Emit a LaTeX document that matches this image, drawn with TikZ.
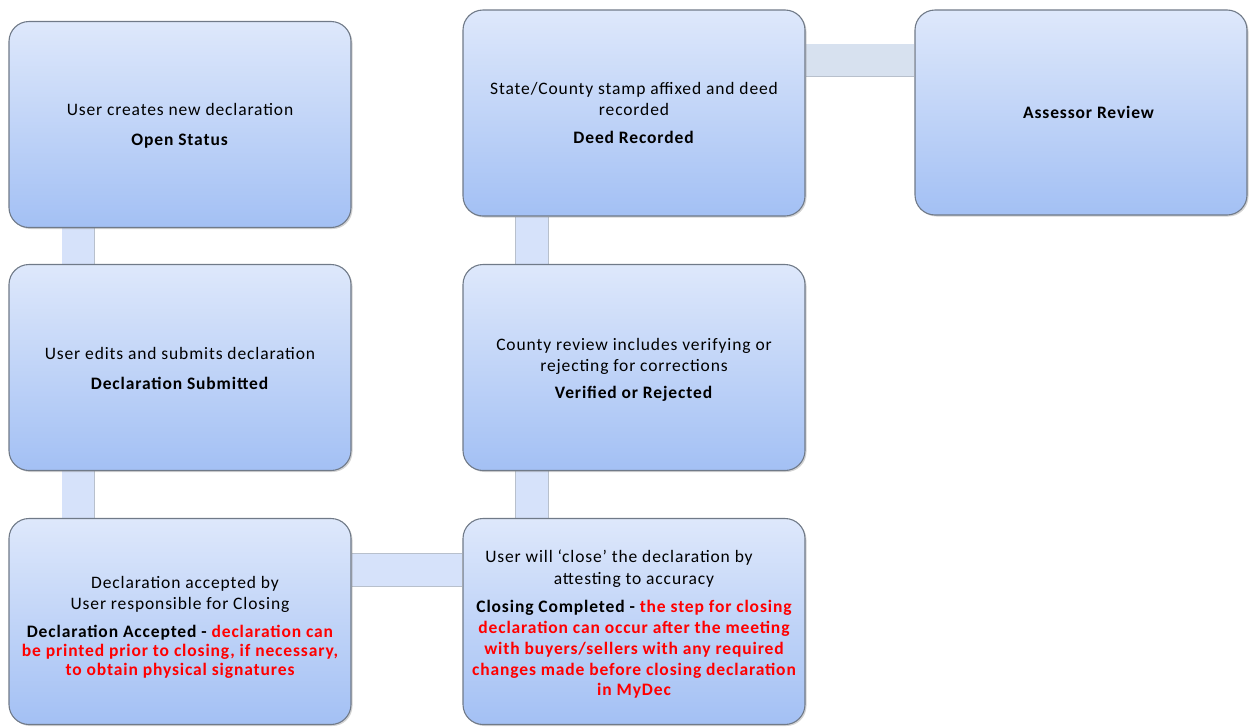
\documentclass[tikz,border=0pt]{standalone}
\usepackage{fontspec}
\setmainfont[LetterSpace=5]{Carlito}
\usetikzlibrary{shadows,backgrounds}
\definecolor{boxtop}{HTML}{DEE8FB}
\definecolor{boxbot}{HTML}{A3C0F4}
\definecolor{boxline}{HTML}{707A88}
\definecolor{connfill}{HTML}{D6E2FA}
\definecolor{connfillb}{HTML}{D7E1EF}
\definecolor{connline}{HTML}{B8C0CC}
\definecolor{redtext}{HTML}{FF0000}
\tikzset{
  stagebox/.style={rounded corners=20pt, draw=boxline, line width=1.1pt,
    top color=boxtop, bottom color=boxbot,
    minimum width=342pt, minimum height=206pt, align=center,
    font=\fontsize{17.5}{21.5}\selectfont, inner sep=0pt,
    drop shadow={opacity=0.35, shadow xshift=1.5pt, shadow yshift=-1.5pt}},
  link/.style={draw=connline, line width=0.6pt, double=connfill, double distance=32pt},
  linkb/.style={draw=connline, line width=0.6pt, double=connfillb, double distance=32pt},
}
\newcommand{\rd}[1]{\textcolor{redtext}{#1}}
\begin{document}
\begin{tikzpicture}[x=1pt,y=-1pt]
\useasboundingbox (0,0) rectangle (1249,726);

\node[stagebox] (b1) at (180,124.5) {\rule{0pt}{15pt}User creates new declaration\\[8.5pt]\textbf{Open Status}};
\node[stagebox] (b2) at (180,367.5) {\rule{0pt}{15pt}User edits and submits declaration\\[8.5pt]\textbf{Declaration Submitted}};
\node[stagebox] (b3) at (180,621.5) {\rule{0pt}{24pt}\hspace*{10pt}Declaration accepted by\\User responsible for Closing\\[6.5pt]
  \textbf{Declaration Accepted - \rd{declaration can}}\\[-2.5pt]
  \textbf{\rd{be printed prior to closing, if necessary,}}\\[-2.5pt]
  \textbf{\rd{to obtain physical signatures}}};
\node[stagebox] (b4) at (634,113) {State/County stamp affixed and deed\\recorded\\[6.5pt]\textbf{Deed Recorded}};
\node[stagebox] (b5) at (634,367.5) {\rule{0pt}{17pt}County review includes verifying or\\rejecting for corrections\\[5.5pt]\textbf{Verified or Rejected}};
\node[stagebox] (b6) at (634,621.5) {\rule{0pt}{18pt}User will ‘close’ the declaration by\hspace*{30pt}\\attesting to accuracy\\[6.5pt]
  \textbf{Closing Completed - \rd{the step for closing}}\\[-0.5pt]
  \textbf{\rd{declaration can occur after the meeting}}\\[-0.5pt]
  \textbf{\rd{with buyers/sellers with any required}}\\[-0.5pt]
  \textbf{\rd{changes made before closing declaration}}\\[-1.5pt]
  \textbf{\rd{in MyDec}}};
\node[stagebox, minimum width=332pt, minimum height=205pt] (b7) at (1081,112.5) {\hspace*{16pt}\textbf{Assessor Review}};

\begin{scope}[on background layer]
\draw[link] ([xshift=70pt]b1.south west) -- ([xshift=70pt]b2.north west);
\draw[link] ([xshift=70pt]b2.south west) -- ([xshift=70pt]b3.north west);
\draw[link] ([yshift=-52pt]b3.north east) -- ([yshift=-52pt]b6.north west);
\draw[link] ([xshift=69.5pt]b6.north west) -- ([xshift=69.5pt]b5.south west);
\draw[link] ([xshift=69.5pt]b5.north west) -- ([xshift=69.5pt]b4.south west);
\draw[linkb] ([yshift=-51pt]b4.north east) -- ([yshift=-51pt]b7.north west);
\end{scope}
\end{tikzpicture}
\end{document}
